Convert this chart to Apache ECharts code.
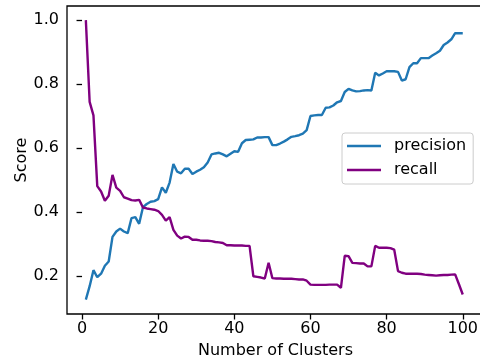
<!DOCTYPE html>
<html>
<head>
<meta charset="utf-8">
<script src="https://cdn.jsdelivr.net/npm/echarts@6/dist/echarts.min.js"></script>
<style>html,body{margin:0;padding:0;background:#fff;}#c{width:480px;height:360px;}</style>
</head>
<body>
<div id="c"></div>
<script>
const clusters = Array.from({length: 100}, (_, i) => i + 1);
const precision = [0.126,0.168,0.218,0.196,0.207,0.232,0.245,0.322,0.339,0.348,
0.339,0.334,0.381,0.384,0.363,0.415,0.425,0.432,0.434,0.44,
0.477,0.46,0.492,0.55,0.526,0.521,0.535,0.535,0.519,0.526,
0.532,0.54,0.555,0.58,0.583,0.585,0.58,0.574,0.582,0.59,
0.588,0.615,0.625,0.626,0.627,0.633,0.633,0.634,0.634,0.609,
0.609,0.614,0.62,0.627,0.635,0.637,0.64,0.645,0.656,0.7,
0.702,0.703,0.703,0.726,0.727,0.733,0.743,0.747,0.775,0.785,
0.78,0.777,0.778,0.78,0.781,0.78,0.835,0.827,0.833,0.84,
0.84,0.84,0.838,0.811,0.815,0.853,0.865,0.865,0.881,0.881,
0.881,0.889,0.896,0.904,0.922,0.93,0.94,0.959,0.959,0.959];
const recall = [1.0,0.744,0.702,0.481,0.464,0.435,0.451,0.516,0.476,0.466,
0.446,0.442,0.437,0.436,0.438,0.414,0.411,0.409,0.407,0.403,
0.391,0.373,0.384,0.344,0.326,0.317,0.323,0.322,0.313,0.313,
0.311,0.31,0.31,0.309,0.306,0.305,0.303,0.296,0.296,0.295,
0.295,0.295,0.294,0.294,0.199,0.197,0.195,0.192,0.241,0.193,
0.192,0.192,0.191,0.191,0.191,0.19,0.189,0.189,0.185,0.173,
0.172,0.172,0.172,0.172,0.173,0.173,0.173,0.163,0.263,0.262,
0.241,0.24,0.239,0.239,0.23,0.23,0.294,0.288,0.288,0.288,
0.287,0.282,0.215,0.21,0.207,0.207,0.207,0.207,0.206,0.204,
0.203,0.202,0.201,0.202,0.203,0.203,0.204,0.205,0.174,0.142];
const xTicks = [0, 20, 40, 60, 80, 100];
const yTicks = [0.2, 0.4, 0.6, 0.8, 1.0];

const font = 'DejaVu Sans';
const chart = echarts.init(document.getElementById('c'), null, {renderer: 'canvas'});
chart.setOption({
  animation: false,
  backgroundColor: '#ffffff',
  textStyle: {fontFamily: font},
  grid: {left: 67, top: 6, width: 417, height: 308, show: true, borderColor: '#000', borderWidth: 1.3,
         backgroundColor: 'transparent', containLabel: false, outerBoundsMode: 'none'},
  legend: {
    orient: 'vertical', left: 342, top: 133,
    padding: [4, 7, 5, 5],
    backgroundColor: 'rgba(255,255,255,0.8)', borderColor: '#cccccc', borderWidth: 1, borderRadius: 3,
    icon: 'rect', itemWidth: 34, itemHeight: 2.4, itemGap: 6,
    textStyle: {fontFamily: font, fontSize: 16, color: '#000', lineHeight: 18, padding: [0, 0, 0, 8]},
    data: ['precision', 'recall']
  },
  xAxis: {
    type: 'value', min: -3.95, max: 105.58,
    name: 'Number of Clusters', nameLocation: 'middle', nameGap: 29, nameMoveOverlap: false,
    nameTextStyle: {fontFamily: font, fontSize: 16, color: '#000'},
    axisLine: {show: false},
    splitLine: {show: false},
    axisTick: {show: true, inside: false, length: 5.5, customValues: xTicks, lineStyle: {color: '#000', width: 1.3}},
    axisLabel: {customValues: xTicks, margin: 7, fontFamily: font, fontSize: 16, color: '#000'}
  },
  yAxis: {
    type: 'value', min: 0.081, max: 1.044,
    name: 'Score', nameLocation: 'middle', nameGap: 37, nameRotate: 90, nameMoveOverlap: false,
    nameTextStyle: {fontFamily: font, fontSize: 16, color: '#000'},
    axisLine: {show: false},
    splitLine: {show: false},
    axisTick: {show: true, inside: false, length: 5.5, customValues: yTicks, lineStyle: {color: '#000', width: 1.3}},
    axisLabel: {customValues: yTicks, margin: 8, fontFamily: font, fontSize: 16, color: '#000', formatter: v => v.toFixed(1)}
  },
  series: [
    {name: 'precision', type: 'line', data: clusters.map((c, i) => [c, precision[i]]), showSymbol: false, symbol: 'none',
     lineStyle: {color: '#1f77b4', width: 2.4}, itemStyle: {color: '#1f77b4'}},
    {name: 'recall', type: 'line', data: clusters.map((c, i) => [c, recall[i]]), showSymbol: false, symbol: 'none',
     lineStyle: {color: '#800080', width: 2.4}, itemStyle: {color: '#800080'}}
  ]
});
</script>
</body>
</html>
